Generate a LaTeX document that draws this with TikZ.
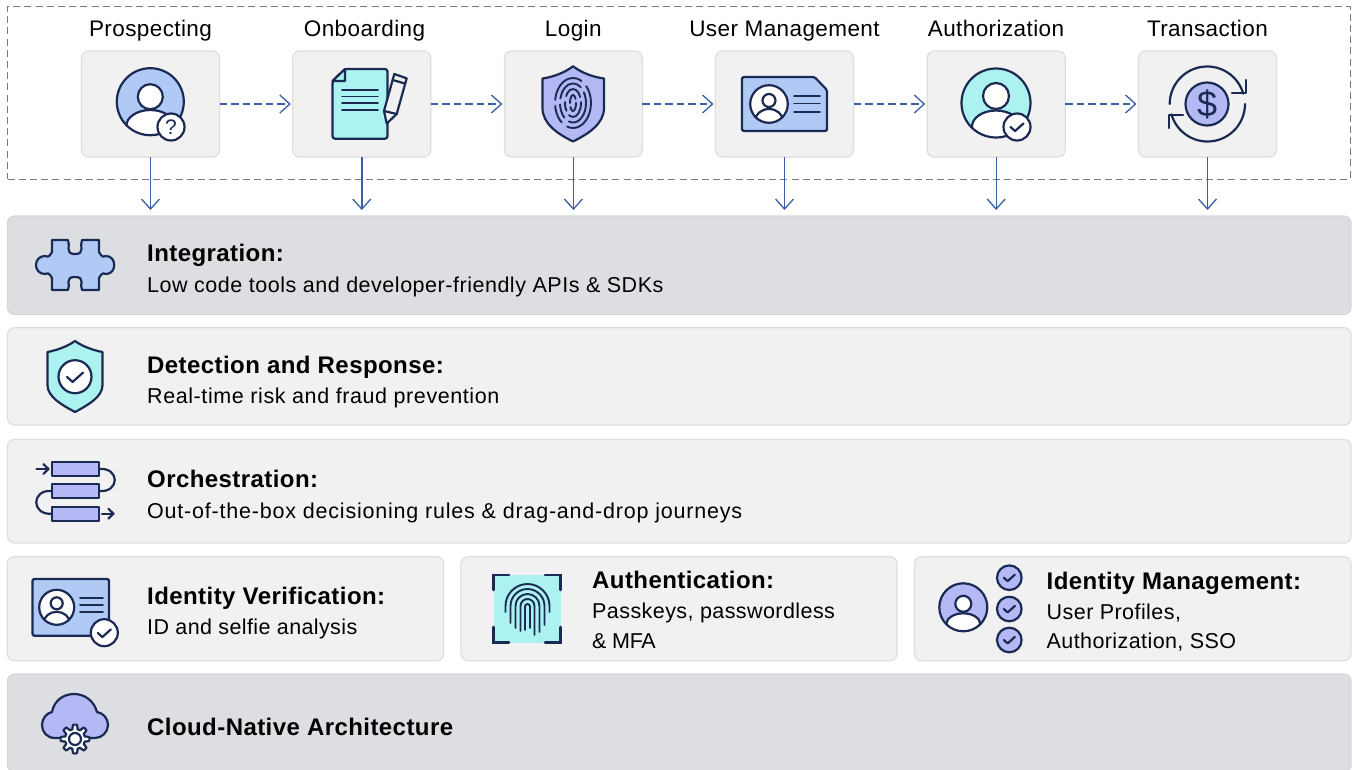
\documentclass[tikz,border=0pt]{standalone}
\usepackage{fontspec}
\setmainfont{Liberation Sans}
\usetikzlibrary{arrows.meta}
\definecolor{navy}{HTML}{1B2A52}
\definecolor{iblue}{HTML}{B0C9F5}
\definecolor{icyan}{HTML}{ABF2F0}
\definecolor{ilav}{HTML}{B4B9F5}
\definecolor{boxfill}{HTML}{F1F1F1}
\definecolor{boxline}{HTML}{DEDEDE}
\definecolor{rowgray}{HTML}{DDDEE2}
\definecolor{flowc}{HTML}{3A5FA8}
\definecolor{framec}{HTML}{7A7A7A}
\tikzset{
  panel/.style={rectangle,rounded corners=7pt,draw=boxline,fill=boxfill,line width=1.2pt,inner sep=0pt,outer sep=0pt},
  grayrow/.style={panel,draw=rowgray!97!black,fill=rowgray},
  stagebox/.style={panel,minimum width=138pt,minimum height=106pt},
  scopeframe/.style={rectangle,draw=framec,line width=1.0pt,dash pattern=on 7pt off 4.2pt,inner sep=0pt,outer sep=0pt},
  flowdown/.style={draw=flowc,line width=1.4pt,-{Straight Barb[length=10pt,width=18pt,line width=1.3pt]}},
  flowside/.style={draw=flowc,line width=1.5pt,dash pattern=on 7.5pt off 4pt,-{Straight Barb[length=10pt,width=18pt,line width=1.3pt]}},
  stagetxt/.style={font=\fontsize{22.5}{26}\selectfont\addfontfeatures{LetterSpace=1.8},text=black,inner sep=0pt,anchor=base},
  headtxt/.style={font=\fontsize{24}{28}\selectfont\bfseries\addfontfeatures{LetterSpace=1.8},text=black,inner sep=0pt,anchor=base west},
  subtxt/.style={font=\fontsize{21.5}{26}\selectfont,text=black,inner sep=0pt,anchor=base west},
  ic/.style={draw=navy,line width=2.2pt,line join=round,line cap=round},
  ict/.style={draw=navy,line width=2.6pt,line cap=round},
  ridge/.style={draw=navy,line width=1.9pt,line cap=round},
}
\newcommand{\lsp}[2]{{\addfontfeatures{LetterSpace=#1}#2}}
% check mark at (x,y), scale s
\newcommand{\chk}[3]{\draw[ic] (#1-#3,#2) -- (#1-.3*#3,#2+.62*#3) -- (#1+#3,#2-.55*#3);}
% avatar: cx cy r fill headdy headr bodytopdy rx ry
\newcommand{\avatar}[9]{%
  \begin{scope}[shift={(#1,#2)}]
    \fill[#4] (0,0) circle[radius=#3];
    \begin{scope}
      \clip (0,0) circle[radius=#3];
      \draw[ic,fill=white] (0,#7+#9) ellipse[x radius=#8,y radius=#9];
    \end{scope}
    \draw[ic,fill=white] (0,#5) circle[radius=#6];
    \draw[ic] (0,0) circle[radius=#3];
  \end{scope}}
\newcommand{\fpring}[5]{% cx ytop r yleft yright
  \draw[ridge] (#1-#3,#4) -- (#1-#3,#2+#3) arc[start angle=180,end angle=360,radius=#3] -- (#1+#3,#5);}
\begin{document}
\begin{tikzpicture}[x=1pt,y=-1pt]
\useasboundingbox (0,0) rectangle (1352,769);
\fill[white] (0,0) rectangle (1352,769);

% scope frame
\node[scopeframe,minimum width=1342.5pt,minimum height=172.5pt] (journey) at (678.75,92.75) {};

% stage boxes
\node[stagebox] (b1) at (150.5,104) {};
\node[stagebox] (b2) at (361.8,104) {};
\node[stagebox] (b3) at (573.4,104) {};
\node[stagebox] (b4) at (784.5,104) {};
\node[stagebox] (b5) at (996.2,104) {};
\node[stagebox] (b6) at (1207.5,104) {};

% stage labels
\node[stagetxt] (t1) at (150.5,36.5) {Prospecting};
\node[stagetxt] (t2) at (364.5,36.5) {Onboarding};
\node[stagetxt] (t3) at (573.3,36.5) {Login};
\node[stagetxt] (t4) at (784.5,36.5) {User Management};
\node[stagetxt] (t5) at (996,36.5) {Authorization};
\node[stagetxt] (t6) at (1207.4,36.5) {Transaction};

% flows
\foreach \a/\b in {b1/b2,b2/b3,b3/b4,b4/b5,b5/b6}
  \draw[flowside] (\a.east) -- ([xshift=-2pt]\b.west);
\coordinate (d1) at (150.5,210);
\coordinate (d2) at (361.8,210);
\coordinate (d3) at (573.4,210);
\coordinate (d4) at (784.5,210);
\coordinate (d5) at (996.2,210);
\coordinate (d6) at (1207.5,210);
\foreach \i in {1,...,6}
  \draw[flowdown] (b\i.south) -- (d\i);

% rows
\node[grayrow,minimum width=1343.5pt,minimum height=98.5pt] (r1) at (679.25,265.25) {};
\node[panel,minimum width=1343.5pt,minimum height=97.3pt] (r2) at (679.25,376.3) {};
\node[panel,minimum width=1343.5pt,minimum height=103.7pt] (r3) at (679.25,491.2) {};
\node[panel,minimum width=436.2pt,minimum height=104pt] (r4a) at (225.4,608.7) {};
\node[panel,minimum width=436pt,minimum height=104pt] (r4b) at (679,608.7) {};
\node[panel,minimum width=436.5pt,minimum height=104pt] (r4c) at (1132.7,608.7) {};
\node[grayrow,minimum width=1343.5pt,minimum height=98pt] (r5) at (679.25,723) {};

% row text
\node[headtxt] (h1) at (147,261) {Integration:};
\node[subtxt] (s1) at (147,292) {\lsp{2.44}{Low code tools and developer-friendly APIs \& SDKs}};
\node[headtxt] (h2) at (147,373) {Detection and Response:};
\node[subtxt] (s2) at (147,403) {\lsp{2.73}{Real-time risk and fraud prevention}};
\node[headtxt] (h3) at (147,487) {Orchestration:};
\node[subtxt] (s3) at (147,518) {\lsp{3.7}{Out-of-the-box decisioning rules \& drag-and-drop journeys}};
\node[headtxt] (h4) at (147,604) {Identity Verification:};
\node[subtxt] (s4) at (147,634) {\lsp{1.8}{ID and selfie analysis}};
\node[headtxt] (h5) at (592,588) {Authentication:};
\node[subtxt] (s5) at (592,618) {\lsp{2.0}{Passkeys, passwordless}};
\node[subtxt] (s5b) at (592,648) {\lsp{-1.4}{\& MFA}};
\node[headtxt] (h6) at (1046.5,589) {Identity Management:};
\node[subtxt] (s6) at (1046.5,619) {\lsp{2.05}{User Profiles,}};
\node[subtxt] (s6b) at (1046.5,648) {\lsp{1.9}{Authorization, SSO}};
\node[headtxt] (h7) at (147,735) {Cloud-Native Architecture};

% --- icon: prospecting
\avatar{150.3}{101.7}{33.5}{iblue}{-5}{12.5}{8.3}{24}{16}
\draw[ic,fill=white] (171,127) circle[radius=13.5];
\node[font=\fontsize{21}{21}\selectfont,text=navy,inner sep=0pt] (qm) at (171,127) {?};

% --- icon: document and pencil
\draw[ic,fill=icyan,rounded corners=2.5pt] (345,69) -- (387.5,69) -- (387.5,138.7) -- (332.5,138.7) -- (332.5,81) -- cycle;
\draw[ic,fill=icyan] (332.5,81) -- (345,81) -- (345,69) -- cycle;
\foreach \y in {90,96.5,103,110} \draw[ic,line width=1.8pt] (342,\y) -- (378,\y);
\draw[ic,fill=boxfill] (394.3,74) -- (406.7,78.3) -- (396.7,114) -- (386.7,123.5) -- (384,111) -- cycle;
\draw[ic] (392.7,80) -- (405,83.5);
\draw[ic] (384,111) -- (396.7,114);

% --- icon: fingerprint shield
\draw[ic,fill=ilav] (573,66.3) .. controls (582,73) and (593,77) .. (604,78.5) -- (604,108) .. controls (604,124) and (588,134) .. (573,141.5) .. controls (558,134) and (542.5,124) .. (542.5,108) -- (542.5,78.5) .. controls (553,77) and (564,73) .. (573,66.3) -- cycle;
\draw[ridge,dash pattern=on 14pt off 4pt] (573,103) ellipse[x radius=3,y radius=8];
\draw[ridge,dash pattern=on 22pt off 5pt on 9pt off 6pt] (573,103) ellipse[x radius=8,y radius=14];
\draw[ridge,dash pattern=on 30pt off 6pt on 14pt off 6pt] (573,103) ellipse[x radius=13,y radius=19.5];
\draw[ridge,dash pattern=on 40pt off 7pt on 18pt off 6pt] (573,103) ellipse[x radius=18,y radius=25];

% --- icon: id card
\draw[ic,fill=iblue,rounded corners=1.5pt] (742,77) -- (814.5,77) -- (827,90) -- (827,131) -- (742,131) -- cycle;
\avatar{769}{104}{18.8}{white}{-3.5}{6.5}{5}{14}{12}
\foreach \y in {95.7,103.5,112} \draw[ic,line width=1.8pt] (794,\y) -- (820,\y);

% --- icon: authorization
\avatar{996}{103}{34.5}{icyan}{-7}{13}{7.5}{24}{16}
\draw[ic,fill=white] (1017,127) circle[radius=13.5];
\chk{1017}{127}{6.5}

% --- icon: transaction
\draw[ic,fill=ilav] (1207,104) circle[radius=21.5];
\node[font=\fontsize{36}{36}\selectfont,text=navy,inner sep=0pt] (dollar) at (1207,104) {\$};
\draw[ic] (1169.7,104) arc[start angle=180,end angle=344,radius=37.5];
\draw[ic] (1245,104) arc[start angle=0,end angle=164,radius=37.5];
\draw[ic] (1245.7,80) -- (1245.7,93) -- (1232,93);
\draw[ic] (1169.3,128) -- (1169.3,115) -- (1183,115);

% --- icon: puzzle
\draw[ic,fill=iblue] (52,240) -- (68,240) .. controls (71,245) and (64,254) .. (75,254) .. controls (86,254) and (79,245) .. (82,240) -- (99,240) -- (99,252) .. controls (103,259) and (104,256) .. (106,256) .. controls (117,256) and (117,274) .. (106,274) .. controls (104,274) and (103,271) .. (99,278) -- (99,290) -- (82,290) .. controls (79,285) and (86,277) .. (75,277) .. controls (64,277) and (71,285) .. (68,290) -- (52,290) -- (52,278) .. controls (48,271) and (47,274) .. (45,274) .. controls (33,274) and (33,256) .. (45,256) .. controls (47,256) and (48,259) .. (52,252) -- cycle;

% --- icon: shield with check
\draw[ic,fill=icyan] (75,341) .. controls (82,346) and (92,350) .. (102.5,352) -- (102.5,385) .. controls (102.5,397) and (88,405) .. (75,412) .. controls (62,405) and (47.5,397) .. (47.5,385) -- (47.5,352) .. controls (58,350) and (68,346) .. (75,341) -- cycle;
\draw[ic,fill=white] (75,376.7) circle[radius=16.5];
\chk{75}{377}{8}

% --- icon: orchestration
\draw[ic] (99,469) .. controls (120,467) and (120,493) .. (99,491);
\draw[ic] (52,491) .. controls (31,489) and (31,515.5) .. (52,513.7);
\foreach \y in {469,491.3,513.7} \draw[ic,fill=ilav] (52,\y-7) rectangle (99,\y+7);
\draw[ic] (36.5,469) -- (48,469);
\draw[ic] (43.5,464.2) -- (48.5,469) -- (43.5,473.8);
\draw[ic] (102,513.7) -- (113,513.7);
\draw[ic] (108.5,508.9) -- (113.5,513.7) -- (108.5,518.5);

% --- icon: id card with badge
\draw[ic,fill=iblue,rounded corners=1.5pt] (32.5,579) rectangle (109,635.7);
\avatar{56.7}{607.3}{17.5}{white}{-4}{6}{4.5}{13}{11}
\foreach \y in {597.7,605,612.3} \draw[ic,line width=1.8pt] (80,\y) -- (103,\y);
\draw[ic,fill=white] (104.3,632.7) circle[radius=13.5];
\chk{104.3}{633}{6.5}

% --- icon: authentication fingerprint
\fill[icyan] (493.5,574.5) rectangle (561,642.7);
\draw[ict] (493.5,590) -- (493.5,575) -- (509,575);
\draw[ict] (545,575) -- (560.5,575) -- (560.5,590);
\draw[ict] (493.5,627) -- (493.5,642.3) -- (509,642.3);
\draw[ict] (545,642.3) -- (560.5,642.3) -- (560.5,627);
\fpring{527.5}{584}{22}{612}{612}
\fpring{527.5}{589}{17}{623}{625}
\fpring{527.5}{594}{12}{628}{632}
\fpring{527.5}{599}{7}{631}{635}
\fpring{527.5}{604}{2.5}{630}{628}

% --- icon: identity management
\avatar{963.3}{607.3}{24}{ilav}{-3.5}{8}{6}{17}{11}
\foreach \y in {577.7,609,640}{
  \draw[ic,fill=ilav] (1009.3,\y) circle[radius=12.3];
  \chk{1009.3}{\y}{5.5}
}

% --- icon: cloud with gear
\draw[ic,fill=ilav] (55,738) .. controls (47,738) and (42,732) .. (42,725) .. controls (42,718) and (47,713) .. (52,712) .. controls (54,701) and (63,694) .. (74,694) .. controls (85,694) and (94,701) .. (97,712) .. controls (103,713) and (108,718) .. (108,725) .. controls (108,732) and (102,738) .. (95,738) -- cycle;
\begin{scope}[shift={(75,739)}]
  \draw[ic,fill=white] plot[domain=0:360,samples=145,variable=\t] ({(12.2+2.2*max(min(2*cos(8*\t),1),-1))*cos(\t)},{(12.2+2.2*max(min(2*cos(8*\t),1),-1))*sin(\t)}) -- cycle;
  \draw[ic,fill=white] (0,0) circle[radius=6];
\end{scope}
\end{tikzpicture}
\end{document}
